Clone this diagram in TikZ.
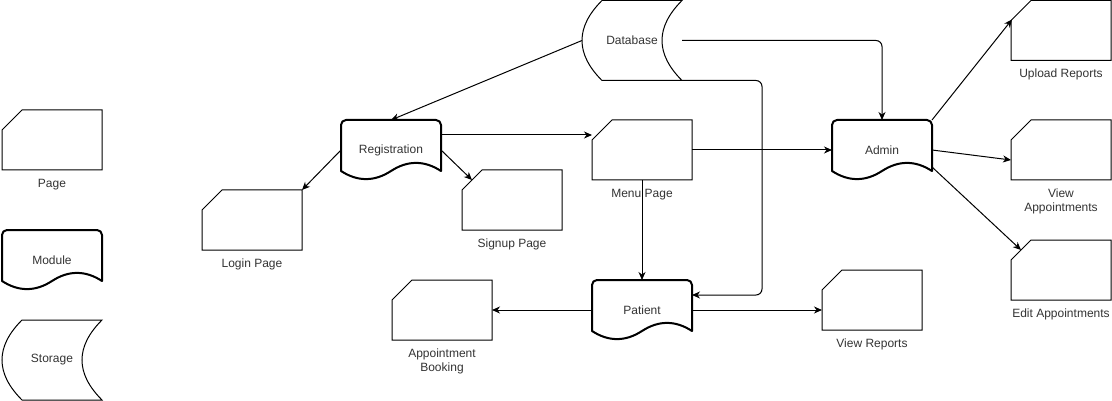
\documentclass[tikz,border=0pt]{standalone}
\usepackage{fontspec}
\setmainfont{Liberation Sans}
\usetikzlibrary{calc,arrows.meta}
\definecolor{txt}{HTML}{333333}
\tikzset{
  x=1pt, y=-1pt,
  box/.style={inner sep=0pt, outer sep=0pt, minimum width=100pt, minimum height=60pt, anchor=north west, text=txt, font=\fontsize{12}{14}\selectfont},
  dbbox/.style={box, minimum height=80pt},
  lbl/.style={inner sep=0pt, text=txt, font=\fontsize{12}{14}\selectfont, align=center, text height=9pt, text depth=2.5pt},
  lbltwo/.style={inner sep=0pt, text=txt, font=\fontsize{12}{14}\selectfont, align=center, anchor=north},
  pageline/.style={draw=black, line width=1pt, line join=miter},
  modline/.style={draw=black, line width=2pt, line join=round},
  conn/.style={draw=black, line width=1pt, -{Stealth[length=8pt,width=7pt,inset=2.5pt]}},
}
\newcommand\pageshape[1]{\draw[pageline, shift={(#1.north west)}] (20,0) -- (100,0) -- (100,60) -- (0,60) -- (0,20) -- cycle;}
\newcommand\moduleshape[1]{\draw[modline, shift={(#1.north west)}] (0,51) -- (0,5) .. controls (0,2.24) and (2.24,0) .. (5,0) -- (95,0) .. controls (97.76,0) and (100,2.24) .. (100,5) -- (100,51) .. controls (83.33,40.2) and (66.67,40.2) .. (50,51) .. controls (33.33,61.8) and (16.67,61.8) .. (0,51) -- cycle;}
\newcommand\storageshape[1]{\draw[pageline, shift={(#1.north west)}] (20,0) -- (100,0) .. controls (73.33,26.67) and (73.33,53.33) .. (100,80) -- (20,80) .. controls (-6.67,53.33) and (-6.67,26.67) .. (20,0) -- cycle;}
\begin{document}
\begin{tikzpicture}
\useasboundingbox (0,0) rectangle (1112,401);
% legend
\node[box] (lpage) at (2,110) {};
\pageshape{lpage}
\node[lbl] (lpageL) at ($(lpage.south)+(0,14)$) {Page};
\node[box] (lmod) at (2,230) {Module};
\moduleshape{lmod}
\node[dbbox] (lstor) at (2,320) {Storage};
\storageshape{lstor}
% main nodes
\node[dbbox] (db) at (582,0.5) {Database};
\storageshape{db}
\node[box] (reg) at (341,120) {Registration};
\moduleshape{reg}
\node[box] (admin) at (832,120) {Admin};
\moduleshape{admin}
\node[box] (patient) at (592,280) {Patient};
\moduleshape{patient}
\node[box] (login) at (202,190) {};
\pageshape{login}
\node[lbl] (loginL) at ($(login.south)+(0,14)$) {Login Page};
\node[box] (signup) at (462,170) {};
\pageshape{signup}
\node[lbl] (signupL) at ($(signup.south)+(0,14)$) {Signup Page};
\node[box] (menu) at (592,120) {};
\pageshape{menu}
\node[lbl] (menuL) at ($(menu.south)+(0,14)$) {Menu Page};
\node[box] (appt) at (392,280) {};
\pageshape{appt}
\node[lbl] (apptL) at ($(appt.south)+(0,14)$) {Appointment};
\node[lbl] (apptL2) at ($(appt.south)+(0,28)$) {Booking};
\node[box] (viewrep) at (822,270) {};
\pageshape{viewrep}
\node[lbl] (viewrepL) at ($(viewrep.south)+(0,14)$) {View Reports};
\node[box] (upload) at (1011,0.5) {};
\pageshape{upload}
\node[lbl] (uploadL) at ($(upload.south)+(0,14)$) {Upload Reports};
\node[box] (viewapp) at (1011,120) {};
\pageshape{viewapp}
\node[lbl] (viewappL) at ($(viewapp.south)+(0,14)$) {View};
\node[lbl] (viewappL2) at ($(viewapp.south)+(0,28)$) {Appointments};
\node[box] (editapp) at (1011,240) {};
\pageshape{editapp}
\node[lbl] (editappL) at ($(editapp.south)+(0,14)$) {Edit Appointments};
% connectors
\draw[conn] (db.west) -- (reg.north);
\draw[conn, rounded corners=6pt] (db.east) -- (db.east -| admin.north) -- (admin.north);
\coordinate (patin) at ($(patient.east)+(0,-15)$);
\draw[conn, rounded corners=6pt] (db.south east) -- ++(80,0) |- (patin);
\draw[conn] ($(reg.east)+(0,-15)$) -- ($(menu.west)+(0,-15)$);
\draw[conn] (reg.west) -- (login.north east);
\draw[conn] (reg.east) -- ($(signup.north west)+(10,10)$);
\draw[conn] (menu.east) -- (admin.west);
\draw[conn] (menu.south) -- (patient.north);
\draw[conn] (patient.west) -- (appt.east);
\draw[conn] (patient.east) -- (patient.east -| viewrep.west);
\draw[conn] (admin.north east) -- ($(upload.north west)+(1,19)$);
\draw[conn] (admin.east) -- ($(viewapp.west)+(0,10)$);
\draw[conn] ($(admin.east)+(0,17)$) -- ($(editapp.north west)+(10,10)$);
\end{tikzpicture}
\end{document}
